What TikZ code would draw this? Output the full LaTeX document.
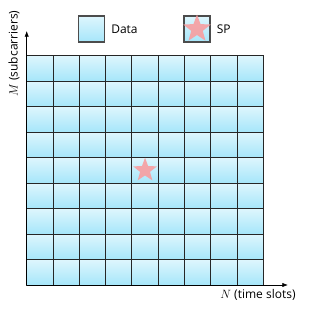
\documentclass[tikz,border=0pt]{standalone}
\usepackage{fontspec}
\setmainfont{Open Sans}
\usepackage{xcolor}
\usetikzlibrary{arrows.meta,positioning,shapes.geometric}

\definecolor{celltop}{RGB}{222,246,253}
\definecolor{cellbot}{RGB}{166,230,250}
\definecolor{spred}{RGB}{248,158,160}

\begin{document}
\begin{tikzpicture}[x=1pt,y=1pt,>=Latex,font=\fontsize{12}{14}\selectfont,
   cell/.style={rectangle,draw=black!85,line width=0.9pt,minimum width=26.3pt,
     minimum height=25.5pt,inner sep=0pt,top color=celltop,bottom color=cellbot},
   lgd/.style={cell,draw=black!70,line width=1.2pt,minimum width=26pt,minimum height=26pt},
   sp/.style={star,star points=5,star point ratio=2.4,fill=spred,draw=none,
     minimum size=25pt,inner sep=0pt,opacity=0.9},
   axl/.style={inner sep=0pt}]
  \useasboundingbox (0,0) rectangle (309,311);
  % grid of resource elements
  \foreach \i in {1,...,9}{
    \foreach \j in {1,...,9}{
      \node[cell] (c-\i-\j) at ({26.7+(\i-0.5)*26.3},{26+(\j-0.5)*25.5}) {};
    }
  }
  \node[sp] (sp) at (c-5-5) {};
  % axes
  \coordinate (o) at (26.7,26);
  \coordinate (ytip) at (26.7,280);
  \coordinate (xtip) at (288,26);
  \draw[->,line width=0.6pt] (o) -- (ytip);
  \draw[->,line width=0.6pt] (o) -- (xtip);
  \node[axl,rotate=90] (ylab) at (14,257.5) {$M$ (subcarriers)};
  \node[axl] (xlab) at (258,16) {$N$ (time slots)};
  % legend
  \node[lgd] (ldata) at (91.5,282) {};
  \node[axl,right=6pt of ldata] (tdata) {Data};
  \node[lgd] (lsp) at (197,282) {};
  \node[sp,minimum size=29pt] (lstar) at (lsp) {};
  \node[axl,right=6pt of lsp] (tsp) {SP};
\end{tikzpicture}
\end{document}
